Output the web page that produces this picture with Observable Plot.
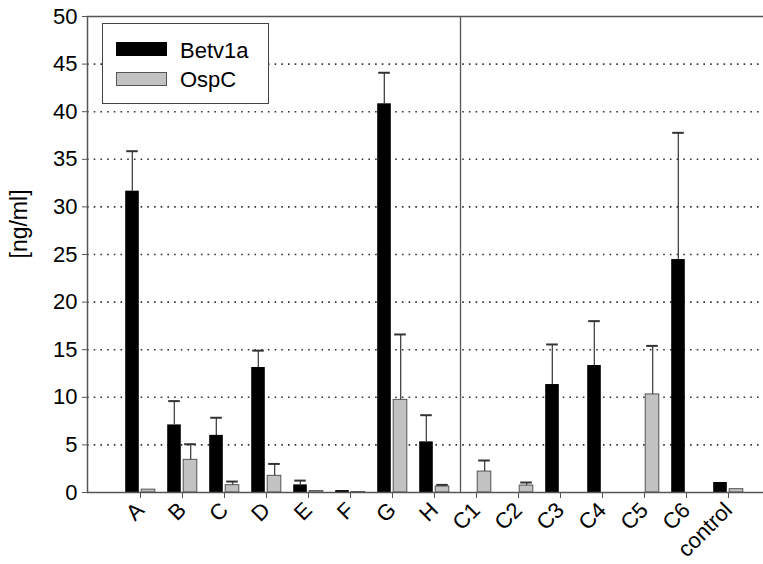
<!DOCTYPE html>
<html>
<head>
<meta charset="utf-8">
<script src="https://cdn.jsdelivr.net/npm/d3@7"></script>
<script src="https://cdn.jsdelivr.net/npm/@observablehq/plot@0.6"></script>
<style>
  html, body { margin: 0; padding: 0; background: #fff; }
  #wrap { position: relative; width: 763px; height: 564px; font-family: "Liberation Sans", Arial, sans-serif; }
  #legend { position: absolute; left: 102px; top: 23px; width: 167px; height: 81px; border: 1.5px solid #444; box-sizing: border-box; background: #fff; }
  .sw { position: absolute; left: 13px; width: 51px; height: 14px; box-sizing: border-box; }
  .lt { position: absolute; left: 77px; font-size: 22px; line-height: 22px; color: #000; }
</style>
</head>
<body>
<div id="wrap"></div>
<script>
const categories = ["A","B","C","D","E","F","G","H","C1","C2","C3","C4","C5","C6","control"];
const betv1a     = [31.65, 7.1, 6.0, 13.13, 0.8, 0.2, 40.83, 5.32, 0, 0, 11.34, 13.34, 0, 24.47, 1.05];
const betv1aErr  = [4.2, 2.5, 1.85, 1.77, 0.45, 0, 3.26, 2.8, 0, 0, 4.21, 4.66, 0, 13.31, 0];
const ospc       = [0.3, 3.43, 0.77, 1.75, 0.15, 0.05, 9.73, 0.63, 2.2, 0.73, 0, 0, 10.3, 0, 0.35];
const ospcErr    = [0, 1.64, 0.38, 1.25, 0, 0, 6.87, 0.17, 1.16, 0.32, 0, 0, 5.1, 0, 0];
const yTicks     = [0,5,10,15,20,25,30,35,40,45,50];
const gridTicks  = [5,10,15,20,25,30,35,40,45];
const seriesNames = ["Betv1a", "OspC"];
const dividerBefore = "C1";

const rows = categories.map((c, i) => ({cat: c, b: betv1a[i], be: betv1aErr[i], o: ospc[i], oe: ospcErr[i]}));
const bErr = rows.filter(d => d.be > 0);
const oErr = rows.filter(d => d.oe > 0);

const BAR_OUT = 6.2, BAR_IN = 22.2;

const chart = Plot.plot({
  width: 763,
  height: 564,
  marginLeft: 87,
  marginTop: 16,
  marginBottom: 72,
  marginRight: 0,
  style: {fontFamily: "Liberation Sans, Arial, sans-serif", background: "#fff", color: "#000"},
  x: {type: "band", domain: categories, range: [115.8, 751.2], padding: 0},
  y: {domain: [0, 50]},
  marks: [
    Plot.ruleY(gridTicks, {stroke: "#333", strokeWidth: 1.6, strokeDasharray: "1.6 5.1"}),
    Plot.ruleX([dividerBefore], {x: d => d, dx: -16, stroke: "#555", strokeWidth: 1.3}),
    Plot.barY(rows, {x: "cat", y: "b", fill: "#000", insetLeft: BAR_OUT, insetRight: BAR_IN}),
    Plot.barY(rows, {x: "cat", y: "o", fill: "#c2c2c2", stroke: "#555", strokeWidth: 1, insetLeft: BAR_IN, insetRight: BAR_OUT}),
    Plot.ruleX(bErr, {x: "cat", y1: "b", y2: d => d.b + d.be, dx: -8.2, stroke: "#333", strokeWidth: 1.2}),
    Plot.tickY(bErr, {x: "cat", y: d => d.b + d.be, insetLeft: BAR_OUT + 1, insetRight: BAR_IN + 1, stroke: "#333", strokeWidth: 2}),
    Plot.ruleX(oErr, {x: "cat", y1: "o", y2: d => d.o + d.oe, dx: 8.2, stroke: "#333", strokeWidth: 1.2}),
    Plot.tickY(oErr, {x: "cat", y: d => d.o + d.oe, insetLeft: BAR_IN + 1, insetRight: BAR_OUT + 1, stroke: "#333", strokeWidth: 2}),
    Plot.frame({stroke: "#555", strokeWidth: 1.5, insetRight: -2}),
    Plot.axisY({ticks: yTicks, tickSize: 5, tickPadding: 5, fontSize: 22, label: null, stroke: "#555"}),
    Plot.axisX({tickRotate: -45, tickSize: 6, tickPadding: 8, fontSize: 22, label: null, stroke: "#555"}),
    Plot.text(["[ng/ml]"], {frameAnchor: "left", rotate: -90, dx: -68, dy: 4, fontSize: 23, fill: "#000"})
  ]
});

const wrap = document.getElementById("wrap");
wrap.appendChild(chart);
const legend = document.createElement("div");
legend.id = "legend";
legend.innerHTML =
  `<div class="sw" style="top:18px;background:#000;"></div>` +
  `<div class="lt" style="top:16px;">${seriesNames[0]}</div>` +
  `<div class="sw" style="top:48px;background:#c2c2c2;border:1.2px solid #555;"></div>` +
  `<div class="lt" style="top:45px;">${seriesNames[1]}</div>`;
wrap.appendChild(legend);
</script>
</body>
</html>
